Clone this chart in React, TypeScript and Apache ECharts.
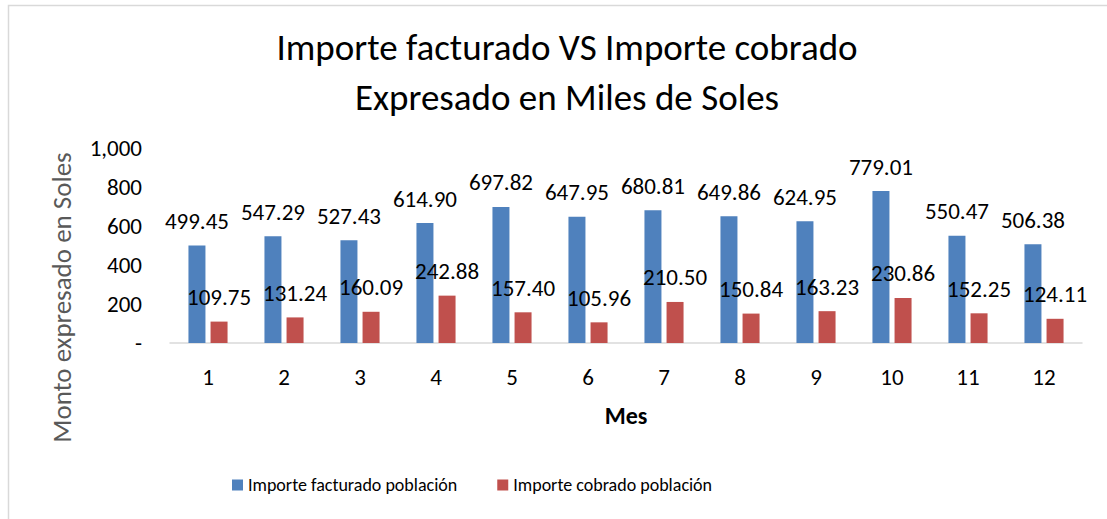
import React, { useEffect, useRef } from "react";
import * as echarts from "echarts";

const months = ["1", "2", "3", "4", "5", "6", "7", "8", "9", "10", "11", "12"];
const facturado = [499.45, 547.29, 527.43, 614.9, 697.82, 647.95, 680.81, 649.86, 624.95, 779.01, 550.47, 506.38];
const cobrado = [109.75, 131.24, 160.09, 242.88, 157.4, 105.96, 210.5, 150.84, 163.23, 230.86, 152.25, 124.11];
const seriesNames = ["Importe facturado población", "Importe cobrado población"];
const titleLines = ["Importe facturado VS Importe cobrado", "Expresado en Miles de Soles"];

const FONT = "Calibri, Carlito, Lato, 'Noto Sans', sans-serif";

export default function App() {
  const ref = useRef<HTMLDivElement>(null);
  useEffect(() => {
    const chart = echarts.init(ref.current!, null, { renderer: "svg" });
    const label = {
      show: true,
      position: "top",
      distance: 13,
      fontSize: 23,
      color: "#000",
      fontFamily: FONT,
      formatter: (p: any) => p.value.toFixed(2),
    };
    chart.setOption({
      animation: false,
      textStyle: { fontFamily: FONT },
      title: {
        text: titleLines.join("\n"),
        left: 562,
        top: 17,
        textAlign: "center",
        textStyle: { fontSize: 37, fontWeight: "normal", color: "#000", lineHeight: 50, fontFamily: FONT },
      },
      graphic: [
        {
          type: "rect",
          shape: { x: 8.5, y: 5.5, width: 1200, height: 600 },
          style: { fill: "none", stroke: "#d9d9d9", lineWidth: 1.5 },
          silent: true,
        },
      ],
      legend: {
        data: seriesNames,
        left: 232,
        top: 476,
        padding: 0,
        itemWidth: 11,
        itemHeight: 11,
        itemGap: 40,
        icon: "rect",
        textStyle: { fontSize: 18, color: "#000", fontFamily: FONT },
      },
      grid: { left: 170, right: 25, top: 148, height: 195, containLabel: false },
      xAxis: {
        type: "category",
        data: months,
        name: "Mes",
        nameLocation: "middle",
        nameGap: 60,
        nameTextStyle: { fontSize: 24, fontWeight: "bold", color: "#000", fontFamily: FONT },
        axisLine: { lineStyle: { color: "#d9d9d9", width: 1.5 } },
        axisTick: { show: false },
        axisLabel: { fontSize: 23, color: "#000", margin: 22, fontFamily: FONT },
      },
      yAxis: {
        type: "value",
        min: 0,
        max: 1000,
        interval: 200,
        name: "Monto expresado en Soles",
        nameLocation: "middle",
        nameGap: 95,
        nameTextStyle: { fontSize: 27, color: "#595959", fontFamily: FONT, padding: [0, 104, 0, 0] },
        axisLine: { show: false },
        axisTick: { show: false },
        splitLine: { show: false },
        axisLabel: {
          fontSize: 23,
          color: "#000",
          margin: 28,
          fontFamily: FONT,
          formatter: (v: number) => (v === 0 ? "-" : v.toLocaleString("en-US")),
        },
      },
      series: [
        {
          name: seriesNames[0],
          type: "bar",
          data: facturado,
          barWidth: 17,
          barGap: "30%",
          itemStyle: { color: "#4f81bd" },
          label,
        },
        {
          name: seriesNames[1],
          type: "bar",
          data: cobrado,
          barWidth: 17,
          itemStyle: { color: "#c0504d" },
          label,
        },
      ],
    });
    return () => chart.dispose();
  }, []);
  return (
    <div
      ref={ref}
      style={{ position: "fixed", left: 0, top: 0, width: 1107, height: 519, background: "#fff" }}
    />
  );
}
